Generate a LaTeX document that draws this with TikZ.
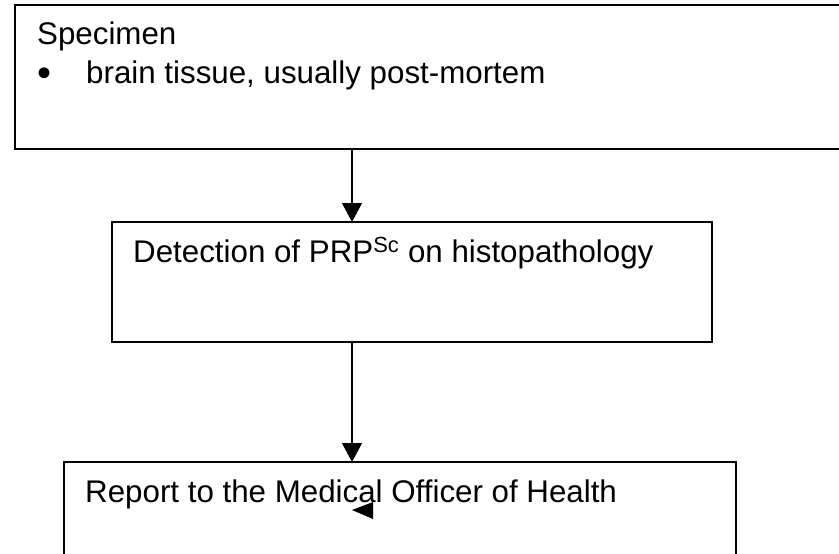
\documentclass[tikz,border=0pt]{standalone}
\usepackage{fontspec}
\setmainfont{Liberation Sans}
\usepackage{tikz}
\usetikzlibrary{
  arrows.meta,
  positioning
}
\tikzset{
  flowbox/.style={draw=black,line width=1.6pt,anchor=north west,inner sep=0pt,outer sep=0pt},
  flowtext/.style={anchor=base west,inner sep=0pt,font=\fontsize{31.3}{36}\selectfont},
  flowarrow/.style={-{Triangle[length=19pt,width=20pt]},line width=1.3pt,draw=black}
}

\begin{document}
\begin{tikzpicture}[x=1pt,y=-1pt]
\useasboundingbox (0,0) rectangle (839,554);
\clip (0,0) rectangle (839,554);
% boxes
\node[flowbox, minimum width=860pt, minimum height=144pt] (specimen) at (15,5) {};
\node[flowbox, minimum width=600pt, minimum height=120pt] (detect) at (112,222) {};
\node[flowbox, minimum width=672pt, minimum height=140pt] (report) at (64,462) {};
% texts
\node[flowtext] (spectitle) at (37,45) {Specimen};
\node[flowtext] (specitem) at (37,83) {\makebox[49pt][l]{\raisebox{-3pt}{\fontsize{40}{40}\selectfont\textbullet}}brain tissue, usually post-mortem};
\node[flowtext] (detecttext) at (133,262) {Detection of PRP\textsuperscript{Sc} on histopathology};
\node[flowtext] (reporttext) at (85,502) {Report to the Medical Officer of Health};
% arrows
\coordinate (col) at (352,0);
\draw[flowarrow] (specimen.south -| col) -- (detect.north -| col);
\draw[flowarrow] (detect.south -| col) -- (report.north -| col);
\fill[black] (352,510) -- (373,502) -- (373,519) -- cycle;
\end{tikzpicture}
\end{document}
